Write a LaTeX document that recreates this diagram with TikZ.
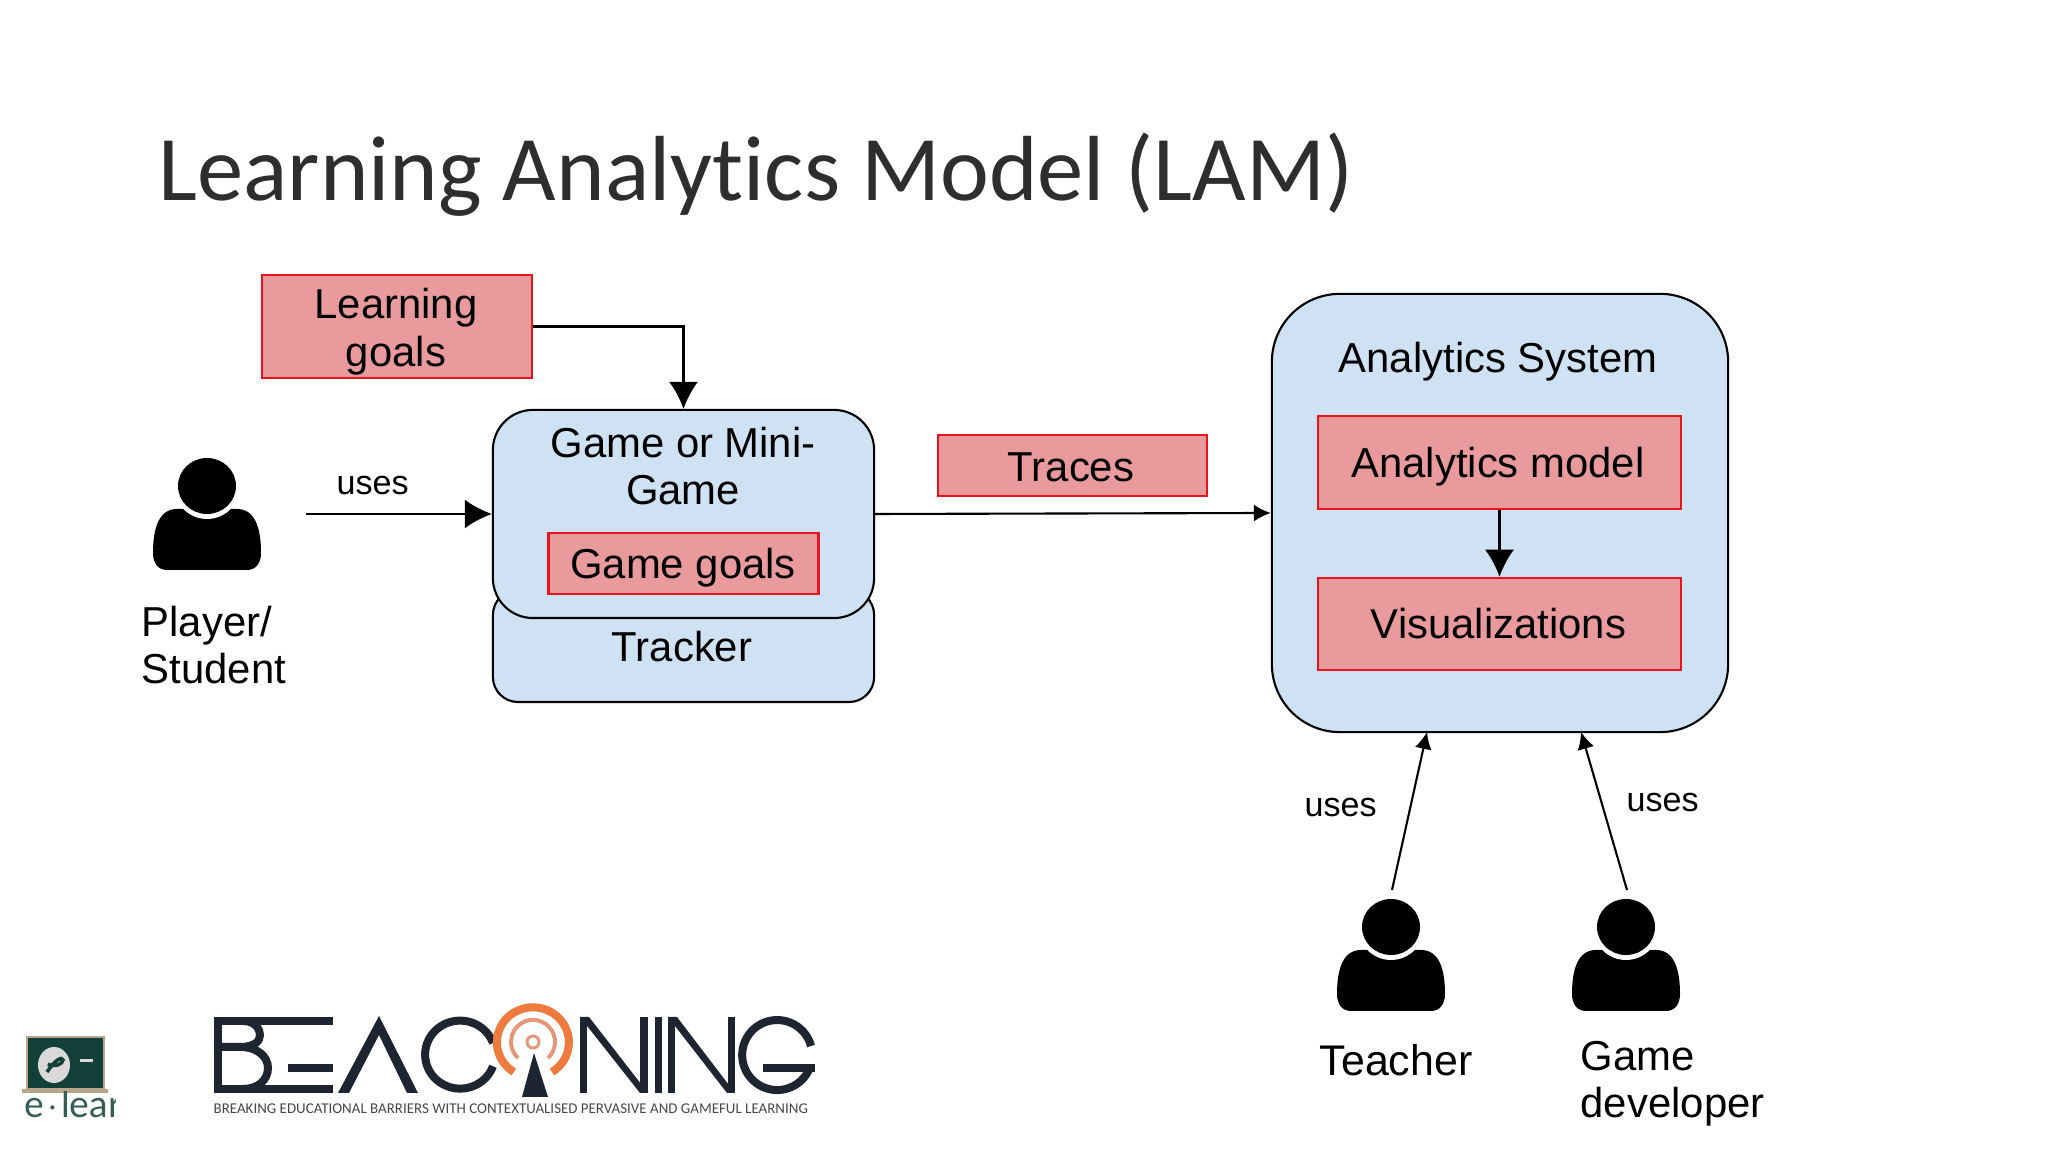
\documentclass[tikz,border=0pt]{standalone}
\usepackage{fontspec}
\setmainfont{Liberation Sans}
\newfontfamily\titlefont[Ligatures=NoCommon]{Carlito}
\newfontfamily\elearnfont{Lato}
\usetikzlibrary{arrows.meta}
\definecolor{boxblue}{HTML}{CFE2F3}
\definecolor{boxred}{HTML}{E99A9C}
\definecolor{linered}{HTML}{E8141C}
\definecolor{logodark}{HTML}{1F2530}
\definecolor{logoorange}{HTML}{EE7B3D}
\definecolor{logosalmon}{HTML}{E3987A}
\definecolor{boardgreen}{HTML}{123F38}
\definecolor{boardtan}{HTML}{B5A68C}
\newcommand{\difont}{\fontsize{11.9}{13.5}\selectfont}
\tikzset{
  bluebox/.style={draw=black, fill=boxblue, line width=0.6pt, inner sep=0pt},
  redbox/.style={draw=linered, fill=boxred, line width=0.7pt, inner sep=0pt},
  boxtext/.style={inner sep=0pt, align=center, font=\difont},
  plaintext/.style={inner sep=0pt, align=left, font=\difont},
  useslabel/.style={inner sep=0pt, anchor=base west, font=\fontsize{9.7}{11}\selectfont},
  bigarrow/.style={draw=black, line width=0.6pt, -{Latex[length=0.27cm,width=0.29cm]}},
  smallarrow/.style={draw=black, line width=0.6pt, -{Latex[length=0.17cm,width=0.17cm]}},
  logostroke/.style={draw=logodark, line width=0.08cm},
  pics/person/.style={code={
    \fill[black] (-40,0) -- (40,0) .. controls (49,0) and (54,7) .. (54,17)
      .. controls (54,42) and (48,61) .. (30,61) -- (-30,61)
      .. controls (-48,61) and (-54,42) .. (-54,17) .. controls (-54,7) and (-49,0) .. (-40,0) -- cycle;
    \fill[white] (0,84) ellipse [x radius=33, y radius=33];
    \fill[black] (0,84) ellipse [x radius=29, y radius=28];
  }}
}
\begin{document}
\begin{tikzpicture}[x=0.01cm, y=0.01cm]
  \useasboundingbox (0,0) rectangle (2048,1152);
  \node[anchor=base west, inner sep=0pt, text=black!82, font=\titlefont\fontsize{26.3}{30}\selectfont] (title) at (158,951) {Learning Analytics Model (LAM)};

  % left part
  \node[redbox, minimum width=2.70cm, minimum height=1.03cm] (learninggoals) at (397,825.5) {};
  \node[boxtext] (learninglabel) at (396,820.5) {Learning\\goals};
  \node[bluebox, minimum width=3.81cm, minimum height=1.12cm, rounded corners=0.25cm] (tracker) at (683.5,506) {};
  \node[boxtext] (trackerlabel) at (682,505) {Tracker};
  \node[bluebox, minimum width=3.81cm, minimum height=2.08cm, rounded corners=0.4cm] (game) at (683.5,638) {};
  \node[boxtext] (gamelabel) at (683,686) {Game or Mini-\\Game};
  \node[redbox, minimum width=2.70cm, minimum height=0.61cm] (gamegoals) at (683.5,588.5) {};
  \node[boxtext] (gamegoalslabel) at (683,584.5) {Game goals};
  \node[redbox, minimum width=2.69cm, minimum height=0.61cm] (traces) at (1072.5,686.5) {};
  \node[boxtext] (traceslabel) at (1071,685) {Traces};

  \pic at (207,582) {person};
  \node[plaintext, anchor=base west] (player) at (141,468) {Player/\\Student};
  \coordinate (playerout) at (306,638);
  \node[useslabel] (usesplayer) at (336,657) {uses};

  % analytics system
  \node[bluebox, minimum width=4.56cm, minimum height=4.38cm, rounded corners=0.68cm] (analytics) at (1500,639) {};
  \node[boxtext] (analyticslabel) at (1498,790) {Analytics System};
  \node[redbox, minimum width=3.63cm, minimum height=0.93cm] (model) at (1499.5,689.5) {};
  \node[boxtext] (modellabel) at (1498,685.5) {Analytics model};
  \node[redbox, minimum width=3.63cm, minimum height=0.92cm] (visual) at (1499.5,528) {};
  \node[boxtext] (visuallabel) at (1498.5,528) {Visualizations};

  % users at the bottom
  \pic at (1391,141) {person};
  \pic at (1626,141) {person};
  \node[plaintext, anchor=base west, font=\fontsize{12.2}{13.5}\selectfont] (teacher) at (1319,76) {Teacher};
  \node[plaintext, anchor=base west] (developer) at (1580,34) {Game\\developer};
  \coordinate (teacherout) at (1392,262);
  \coordinate (teacherin) at (1427,420);
  \coordinate (developerout) at (1627,262);
  \coordinate (developerin) at (1581,420);
  \node[useslabel] (usesteacher) at (1304,335) {uses};
  \node[useslabel] (usesdeveloper) at (1626,340) {uses};

  \draw[bigarrow] (learninggoals.east) -| (game.north);
  \draw[bigarrow] (playerout) -- (game.west);
  \draw[smallarrow] (game.east) -- (analytics.west);
  \draw[bigarrow] (model.south) -- (visual.north);
  \draw[smallarrow] (teacherout) -- (teacherin);
  \draw[smallarrow] (developerout) -- (developerin);

  % beaconing logo
  \draw[logostroke] (333,131) -- (218,131) -- (218,63) -- (333,63);
  \draw[logostroke] (288,84) -- (333,84);
  \draw[logostroke] (243,131) .. controls (256,131) and (260,122) .. (260,117) .. controls (260,111) and (255,105) .. (240,105) -- (218,105);
  \draw[logostroke] (240,105) .. controls (258,105) and (268,95) .. (268,84) .. controls (268,72) and (258,63) .. (243,63);
  \fill[logodark] (338,59) -- (379,136) -- (418,59) -- (407,59) -- (379,117) -- (349,59) -- cycle;
  \draw[logostroke] (493,109) arc [start angle=20, end angle=340, x radius=35, y radius=34];
  \draw[draw=logoorange, line width=0.08cm] (552,80) arc [start angle=-58, end angle=238, x radius=36, y radius=35];
  \draw[draw=logosalmon, line width=0.04cm] (548,94) arc [start angle=-47, end angle=227, radius=22];
  \draw[draw=logosalmon, line width=0.03cm] (533,110) circle [radius=6];
  \fill[logodark] (534,99) -- (548,55) -- (522,55) -- cycle;
  \fill[logodark] (580,59) rectangle (587,135);
  \fill[logodark] (580,135) -- (589,135) -- (648,59) -- (640,59) -- cycle;
  \fill[logodark] (640,59) rectangle (648,135);
  \fill[logodark] (655,59) rectangle (662,135);
  \fill[logodark] (668,59) rectangle (675,135);
  \fill[logodark] (668,135) -- (677,135) -- (735,59) -- (727,59) -- cycle;
  \fill[logodark] (728,59) rectangle (735,135);
  \draw[logostroke] (811,106) arc [start angle=15, end angle=340, radius=35];
  \draw[logostroke] (763,84) -- (815,84);
  \node[anchor=base west, inner sep=0pt, text=black!72, font=\titlefont\fontsize{4.25}{5}\selectfont] (tagline) at (213,38) {BREAKING EDUCATIONAL BARRIERS WITH CONTEXTUALISED PERVASIVE AND GAMEFUL LEARNING};

  % e-learn logo
  \fill[boardtan] (26,63) rectangle (105,116);
  \fill[boardgreen] (28,64) rectangle (103,114);
  \fill[boardtan] (22,59) rectangle (108,63);
  \fill[white!85!black] (54,87) ellipse [x radius=16, y radius=18];
  \draw[boardgreen, line width=0.035cm] (47,80) .. controls (55,92) and (62,96) .. (63,92) .. controls (63,88) and (54,84) .. (48,88);
  \draw[white!85!black, line width=0.03cm] (80,91) -- (93,91);
  \begin{scope}
    \clip (0,0) rectangle (115,60);
    \node[anchor=base west, inner sep=0pt, text=boardgreen!85, font=\elearnfont\fontsize{10.6}{12}\selectfont] (elearn) at (24,34) {e\hspace{0.03cm}$\cdot$\hspace{0.03cm}learn};
  \end{scope}
\end{tikzpicture}
\end{document}
